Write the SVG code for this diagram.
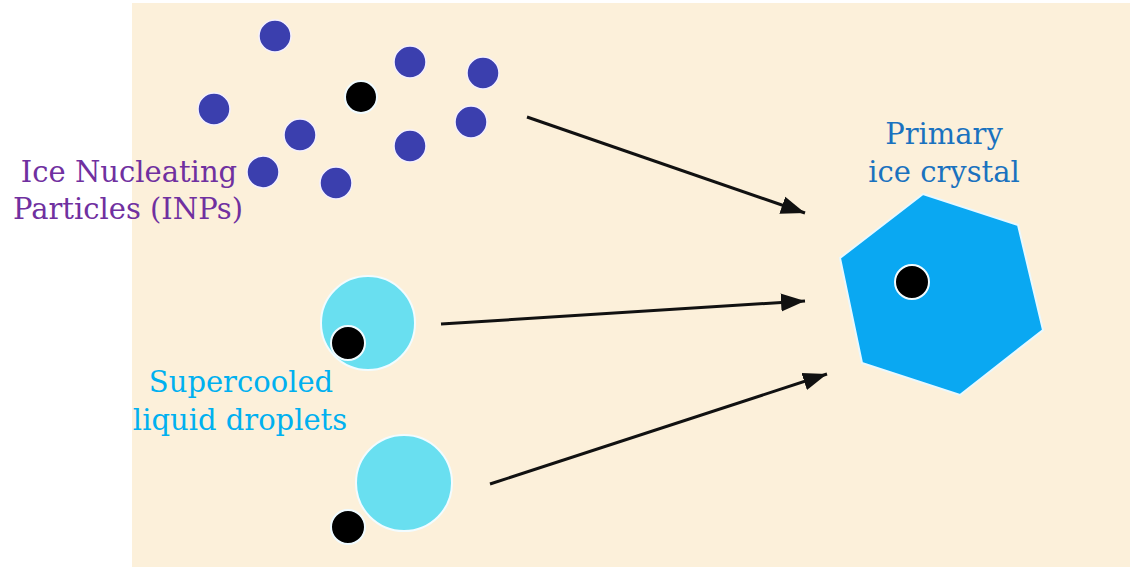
<svg xmlns="http://www.w3.org/2000/svg" width="1130" height="567" viewBox="0 0 1130 567">
<defs>
<style>
.inp{fill:#3b3fae;stroke:#f4f0ff;stroke-width:1.5}
.core{fill:#000;stroke:#f0fbff;stroke-width:2}
.drop{fill:#69dff0;stroke:#f2fcff;stroke-width:2}
.lbl{font-family:"DejaVu Serif","Liberation Serif",serif;font-size:29px;text-anchor:middle}
.conn{stroke:#111;stroke-width:3;fill:none;marker-end:url(#ah)}
</style>
<marker id="ah" markerUnits="userSpaceOnUse" markerWidth="26" markerHeight="20" refX="24" refY="10" orient="auto">
<path d="M0,1 L24,10 L0,19 z" fill="#111"/>
</marker>
</defs>
<rect x="0" y="0" width="1130" height="567" fill="#fff"/>
<rect x="132" y="3" width="998" height="564" fill="#fcf0da"/>
<g id="inps">
<circle class="inp" cx="275" cy="36" r="16"/>
<circle class="inp" cx="410" cy="62" r="16"/>
<circle class="inp" cx="483" cy="73" r="16"/>
<circle class="inp" cx="214" cy="109" r="16"/>
<circle class="inp" cx="300" cy="135" r="16"/>
<circle class="inp" cx="471" cy="122" r="16"/>
<circle class="inp" cx="410" cy="146" r="16"/>
<circle class="inp" cx="263" cy="172" r="16"/>
<circle class="inp" cx="336" cy="183" r="16"/>
<circle class="core" cx="361" cy="97" r="16"/>
<text class="lbl" fill="#7030a0" x="129" y="182">Ice Nucleating</text>
<text class="lbl" fill="#7030a0" x="128" y="219">Particles (INPs)</text>
</g>
<g id="droplet1">
<circle class="drop" cx="368" cy="323" r="47"/>
<circle class="core" cx="348" cy="343" r="17"/>
</g>
<g id="droplet2">
<circle class="drop" cx="404" cy="483" r="48"/>
<circle class="core" cx="348" cy="527" r="17"/>
</g>
<g id="droplet-label">
<text class="lbl" fill="#00b0f0" x="241" y="392">Supercooled</text>
<text class="lbl" fill="#00b0f0" x="240" y="430">liquid droplets</text>
</g>
<g id="crystal">
<polygon points="923,194 1018,225 1043,330 960,395 862,363 840,258" fill="#0aa8f2" stroke="#e8f8ff" stroke-width="2"/>
<circle class="core" cx="912" cy="282" r="17"/>
<text class="lbl" fill="#1a72bf" x="944" y="144">Primary</text>
<text class="lbl" fill="#1a72bf" x="944" y="182">ice crystal</text>
</g>
<g id="connectors">
<line class="conn" x1="527" y1="117" x2="805" y2="213"/>
<line class="conn" x1="441" y1="324" x2="805" y2="301"/>
<line class="conn" x1="490" y1="484" x2="827" y2="374"/>
</g>
</svg>
